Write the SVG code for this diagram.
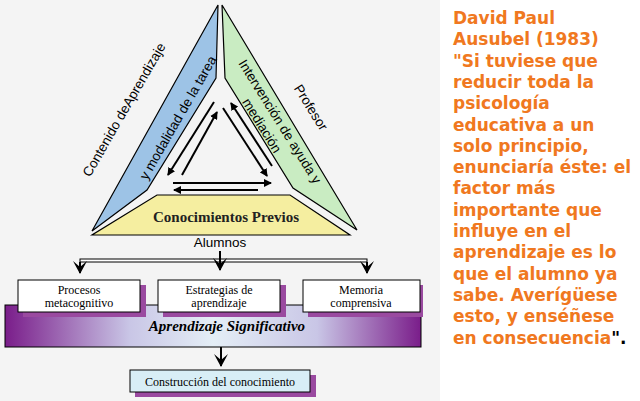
<svg xmlns="http://www.w3.org/2000/svg" width="640" height="401" viewBox="0 0 640 401">
<defs>
<style>
.edge{stroke:#000;stroke-width:1.2;fill:none}
.ar{stroke:#000;stroke-width:2;fill:none}
.box{fill:#fff;stroke:#000;stroke-width:1}
.sh{fill:#9a4aa0}
.bt{font-family:"Liberation Serif",serif;font-size:12px;text-anchor:middle;fill:#000}
.tl{font-family:"Liberation Sans",sans-serif;font-size:13.5px;text-anchor:middle;fill:#000}
.q{font-family:"DejaVu Sans",sans-serif;font-weight:bold;font-size:17px;fill:#f07820}
</style>
<marker id="ah" markerWidth="8" markerHeight="8" refX="7" refY="4" orient="auto" markerUnits="userSpaceOnUse"><path d="M0,0 L8,4 L0,8 Z" fill="#000"/></marker>
<marker id="bh" markerWidth="16" markerHeight="14" refX="8" refY="12" orient="0" markerUnits="userSpaceOnUse"><path d="M1,0 L8,6 L15,0 L8,13 Z" fill="#000"/></marker>
<linearGradient id="pg" x1="0" y1="0" x2="1" y2="0"><stop offset="0" stop-color="#7a1d8a"/><stop offset="0.3" stop-color="#c9c6e6"/><stop offset="0.5" stop-color="#e4eef6"/><stop offset="0.75" stop-color="#c9c6e6"/><stop offset="1" stop-color="#7a1d8a"/></linearGradient>
</defs>
<rect width="640" height="401" fill="#fff"/>
<rect width="440" height="401" fill="#f4f4f4"/>
<g id="blue"><polygon points="218,5 216,78 147,190 92,231" fill="#9dc3e6" stroke="#000" stroke-width="1.2"/>
<text class="tl" transform="translate(128,112) rotate(-60)">Contenido deAprendizaje</text>
<text class="tl" transform="translate(182,120) rotate(-60)">y modalidad de la tarea</text></g>
<g id="green"><polygon points="222,5 225,78 293,188 357,230" fill="#c9ecc2" stroke="#000" stroke-width="1.2"/>
<text class="tl" transform="translate(276,124) rotate(58)">Intervención de ayuda y</text>
<text class="tl" transform="translate(258,128) rotate(58)">mediación</text>
<text class="tl" transform="translate(307,110) rotate(58)">Profesor</text></g>
<g id="yellow"><polygon points="157,195 290,195 350,235 92,235" fill="#f5eea0" stroke="#000" stroke-width="1.2"/>
<text x="226" y="222" font-family="Liberation Serif,serif" font-weight="bold" font-size="15" text-anchor="middle" fill="#222">Conocimientos Previos</text></g>
<g id="connectors">
<line class="ar" x1="182" y1="175" x2="217" y2="112" marker-end="url(#ah)"/>
<line class="ar" x1="214" y1="102" x2="168" y2="175" marker-end="url(#ah)"/>
<line class="ar" x1="223" y1="108" x2="267" y2="176" marker-end="url(#ah)"/>
<line class="ar" x1="272" y1="166" x2="231" y2="103" marker-end="url(#ah)"/>
<line class="ar" x1="173" y1="183" x2="271" y2="183" marker-end="url(#ah)"/>
<line class="ar" x1="258" y1="190" x2="174" y2="190" marker-end="url(#ah)"/>
<rect x="80" y="259" width="287" height="3" fill="#fff" stroke="#000" stroke-width="1"/>
<line x1="220" y1="251" x2="220" y2="270" stroke="#000" stroke-width="2" marker-end="url(#bh)"/>
<line x1="80" y1="262" x2="80" y2="273" stroke="#000" stroke-width="2" marker-end="url(#bh)"/>
<line x1="367" y1="262" x2="367" y2="273" stroke="#000" stroke-width="2" marker-end="url(#bh)"/>
<line x1="221" y1="347" x2="221" y2="366" stroke="#000" stroke-width="2" marker-end="url(#bh)"/>
</g>
<text x="220" y="247" class="tl">Alumnos</text>
<g id="band"><rect x="5" y="305" width="416" height="42" fill="url(#pg)" stroke="#000" stroke-width="1"/>
<text x="227" y="331" font-family="Liberation Serif,serif" font-style="italic" font-weight="bold" font-size="15" text-anchor="middle">Aprendizaje Significativo</text></g>
<g id="procesos"><rect x="23" y="285" width="123" height="32" class="sh"/><rect x="18" y="280" width="122" height="32" class="box"/>
<text x="79" y="294" class="bt">Procesos</text><text x="79" y="307" class="bt">metacognitivo</text></g>
<g id="estrategias"><rect x="163" y="285" width="123" height="32" class="sh"/><rect x="158" y="280" width="122" height="32" class="box"/>
<text x="219" y="294" class="bt">Estrategias de</text><text x="219" y="307" class="bt">aprendizaje</text></g>
<g id="memoria"><rect x="308" y="285" width="115" height="32" class="sh"/><rect x="303" y="280" width="117" height="32" class="box"/>
<text x="361" y="294" class="bt">Memoria</text><text x="361" y="307" class="bt">comprensiva</text></g>
<g id="construccion"><rect x="135" y="375" width="181" height="22" class="sh"/><rect x="130" y="370" width="180" height="22" fill="#d8eef6" stroke="#000"/>
<text x="220" y="386" class="bt">Construcción del conocimiento</text></g>
<g id="quote">
<text class="q" x="453" y="24">David Paul</text>
<text class="q" x="453" y="45.3">Ausubel (1983)</text>
<text class="q" x="453" y="66.6">"Si tuviese que</text>
<text class="q" x="453" y="87.9">reducir toda la</text>
<text class="q" x="453" y="109.2">psicología</text>
<text class="q" x="453" y="130.5">educativa a un</text>
<text class="q" x="453" y="151.8">solo principio,</text>
<text class="q" x="453" y="173.1">enunciaría éste: el</text>
<text class="q" x="453" y="194.4">factor más</text>
<text class="q" x="453" y="215.7">importante que</text>
<text class="q" x="453" y="237">influye en el</text>
<text class="q" x="453" y="258.3">aprendizaje es lo</text>
<text class="q" x="453" y="279.6">que el alumno ya</text>
<text class="q" x="453" y="300.9">sabe. Averígüese</text>
<text class="q" x="453" y="322.2">esto, y enséñese</text>
<text class="q" x="453" y="343.5">en consecuencia<tspan fill="#000">".</tspan></text>
</g>
</svg>
